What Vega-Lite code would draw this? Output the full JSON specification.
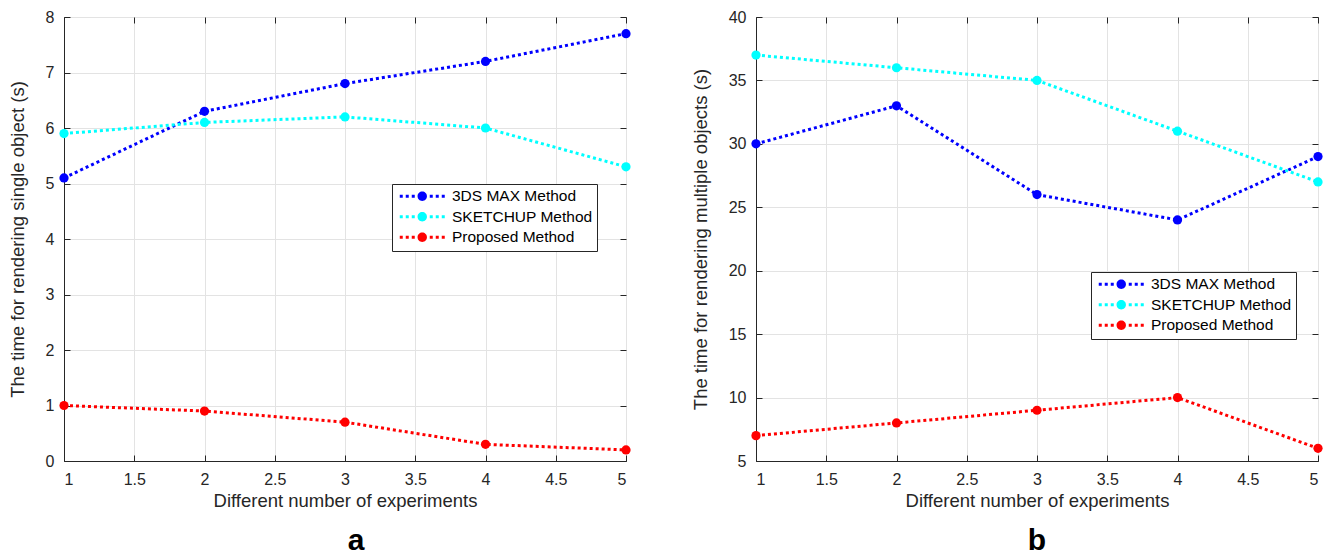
{
  "$schema": "https://vega.github.io/schema/vega-lite/v6.json",
  "padding": {"left": 7, "top": 8, "right": 10, "bottom": 0},
  "background": "white",
  "config": {
    "font": "Liberation Sans",
    "view": {"stroke": "#262626", "strokeWidth": 1},
    "axis": {
      "labelFont": "Liberation Sans", "labelFontSize": 16, "labelColor": "#262626",
      "titleFont": "Liberation Sans", "titleFontSize": 18.5, "titleFontWeight": "normal", "titleColor": "#262626",
      "domainColor": "#262626", "tickColor": "#262626", "tickSize": -6,
      "gridColor": "#e3e3e3", "gridWidth": 1
    },
    "axisX": {"labelPadding": 16, "titlePadding": 4},
    "axisY": {"labelPadding": 16, "titlePadding": 18},
    "legend": {
      "labelFont": "Liberation Sans", "labelFontSize": 15.5, "labelColor": "black"
    },
    "title": {"font": "Liberation Sans", "fontSize": 30, "fontWeight": "bold", "color": "black"}
  },
  "datasets": {
    "a": [
      {"exp": 1, "method": "3DS MAX Method", "time": 5.1},
      {"exp": 2, "method": "3DS MAX Method", "time": 6.3},
      {"exp": 3, "method": "3DS MAX Method", "time": 6.8},
      {"exp": 4, "method": "3DS MAX Method", "time": 7.2},
      {"exp": 5, "method": "3DS MAX Method", "time": 7.7},
      {"exp": 1, "method": "SKETCHUP Method", "time": 5.9},
      {"exp": 2, "method": "SKETCHUP Method", "time": 6.1},
      {"exp": 3, "method": "SKETCHUP Method", "time": 6.2},
      {"exp": 4, "method": "SKETCHUP Method", "time": 6.0},
      {"exp": 5, "method": "SKETCHUP Method", "time": 5.3},
      {"exp": 1, "method": "Proposed Method", "time": 1.0},
      {"exp": 2, "method": "Proposed Method", "time": 0.9},
      {"exp": 3, "method": "Proposed Method", "time": 0.7},
      {"exp": 4, "method": "Proposed Method", "time": 0.3},
      {"exp": 5, "method": "Proposed Method", "time": 0.2}
    ],
    "b": [
      {"exp": 1, "method": "3DS MAX Method", "time": 30},
      {"exp": 2, "method": "3DS MAX Method", "time": 33},
      {"exp": 3, "method": "3DS MAX Method", "time": 26},
      {"exp": 4, "method": "3DS MAX Method", "time": 24},
      {"exp": 5, "method": "3DS MAX Method", "time": 29},
      {"exp": 1, "method": "SKETCHUP Method", "time": 37},
      {"exp": 2, "method": "SKETCHUP Method", "time": 36},
      {"exp": 3, "method": "SKETCHUP Method", "time": 35},
      {"exp": 4, "method": "SKETCHUP Method", "time": 31},
      {"exp": 5, "method": "SKETCHUP Method", "time": 27},
      {"exp": 1, "method": "Proposed Method", "time": 7},
      {"exp": 2, "method": "Proposed Method", "time": 8},
      {"exp": 3, "method": "Proposed Method", "time": 9},
      {"exp": 4, "method": "Proposed Method", "time": 10},
      {"exp": 5, "method": "Proposed Method", "time": 6}
    ]
  },
  "hconcat": [
    {
      "width": 562, "height": 444,
      "data": {"name": "a"},
      "title": {"text": "a", "orient": "bottom", "offset": 16, "dx": 11},
      "layer": [
        {
          "mark": {"type": "line", "strokeDash": [3, 3], "strokeWidth": 3},
          "encoding": {
            "x": {"field": "exp", "type": "quantitative", "scale": {"domain": [1, 5], "nice": false},
                  "axis": {"title": "Different number of experiments", "format": "~g", "values": [1, 1.5, 2, 2.5, 3, 3.5, 4, 4.5, 5]}},
            "y": {"field": "time", "type": "quantitative", "scale": {"domain": [0, 8], "nice": false},
                  "axis": {"title": "The time for rendering single object (s)", "values": [0, 1, 2, 3, 4, 5, 6, 7, 8]}},
            "color": {"field": "method", "type": "nominal",
                      "scale": {"domain": ["3DS MAX Method", "SKETCHUP Method", "Proposed Method"], "range": ["#0000ff", "#00ffff", "#ff0000"]},
                      "legend": {"title": null, "orient": "none", "legendX": 328, "legendY": 167,
                                 "strokeColor": "#262626", "fillColor": "white", "padding": 4.5, "rowPadding": 3.5,
                                 "symbolType": "M-4.5,-0.3h0.6v0.6h-0.6Z M-3.3,-0.3h0.6v0.6h-0.6Z M-2.1,-0.3h0.6v0.6h-0.6Z M1.5,-0.3h0.6v0.6h-0.6Z M2.7,-0.3h0.6v0.6h-0.6Z M3.9,-0.3h0.6v0.6h-0.6Z M0.94,0A0.94,0.94,0,1,1,-0.94,0A0.94,0.94,0,1,1,0.94,0Z",
                                 "symbolSize": 100, "symbolStrokeWidth": 0,
                                 "symbolOffset": 18, "labelOffset": 22,
                                 "encode": {"symbols": {"update": {"fill": {"signal": "datum.value === '3DS MAX Method' ? '#0000ff' : datum.value === 'SKETCHUP Method' ? '#00ffff' : '#ff0000'"}, "strokeWidth": {"value": 0}}}}}}
          }
        },
        {
          "mark": {"type": "point", "filled": true, "size": 85, "opacity": 1},
          "encoding": {
            "x": {"field": "exp", "type": "quantitative",
                  "axis": {"orient": "top", "title": null, "labels": false, "grid": false, "domain": false, "values": [1, 1.5, 2, 2.5, 3, 3.5, 4, 4.5, 5]}},
            "y": {"field": "time", "type": "quantitative",
                  "axis": {"orient": "right", "title": null, "labels": false, "grid": false, "domain": false, "values": [0, 1, 2, 3, 4, 5, 6, 7, 8]}},
            "color": {"field": "method", "type": "nominal"}
          }
        }
      ],
      "resolve": {"axis": {"x": "independent", "y": "independent"}}
    },
    {
      "width": 562, "height": 444,
      "data": {"name": "b"},
      "title": {"text": "b", "orient": "bottom", "offset": 16},
      "layer": [
        {
          "mark": {"type": "line", "strokeDash": [3, 3], "strokeWidth": 3},
          "encoding": {
            "x": {"field": "exp", "type": "quantitative", "scale": {"domain": [1, 5], "nice": false},
                  "axis": {"title": "Different number of experiments", "format": "~g", "values": [1, 1.5, 2, 2.5, 3, 3.5, 4, 4.5, 5]}},
            "y": {"field": "time", "type": "quantitative", "scale": {"domain": [5, 40], "nice": false},
                  "axis": {"title": "The time for rendering multiple objects (s)", "values": [5, 10, 15, 20, 25, 30, 35, 40]}},
            "color": {"field": "method", "type": "nominal",
                      "scale": {"domain": ["3DS MAX Method", "SKETCHUP Method", "Proposed Method"], "range": ["#0000ff", "#00ffff", "#ff0000"]},
                      "legend": {"title": null, "orient": "none", "legendX": 335, "legendY": 255,
                                 "strokeColor": "#262626", "fillColor": "white", "padding": 4.5, "rowPadding": 3.5,
                                 "symbolType": "M-4.5,-0.3h0.6v0.6h-0.6Z M-3.3,-0.3h0.6v0.6h-0.6Z M-2.1,-0.3h0.6v0.6h-0.6Z M1.5,-0.3h0.6v0.6h-0.6Z M2.7,-0.3h0.6v0.6h-0.6Z M3.9,-0.3h0.6v0.6h-0.6Z M0.94,0A0.94,0.94,0,1,1,-0.94,0A0.94,0.94,0,1,1,0.94,0Z",
                                 "symbolSize": 100, "symbolStrokeWidth": 0,
                                 "symbolOffset": 18, "labelOffset": 22,
                                 "encode": {"symbols": {"update": {"fill": {"signal": "datum.value === '3DS MAX Method' ? '#0000ff' : datum.value === 'SKETCHUP Method' ? '#00ffff' : '#ff0000'"}, "strokeWidth": {"value": 0}}}}}}
          }
        },
        {
          "mark": {"type": "point", "filled": true, "size": 85, "opacity": 1},
          "encoding": {
            "x": {"field": "exp", "type": "quantitative",
                  "axis": {"orient": "top", "title": null, "labels": false, "grid": false, "domain": false, "values": [1, 1.5, 2, 2.5, 3, 3.5, 4, 4.5, 5]}},
            "y": {"field": "time", "type": "quantitative",
                  "axis": {"orient": "right", "title": null, "labels": false, "grid": false, "domain": false, "values": [5, 10, 15, 20, 25, 30, 35, 40]}},
            "color": {"field": "method", "type": "nominal"}
          }
        }
      ],
      "resolve": {"axis": {"x": "independent", "y": "independent"}}
    }
  ],
  "spacing": 57,
  "resolve": {"scale": {"color": "independent"}, "legend": {"color": "independent"}}
}
